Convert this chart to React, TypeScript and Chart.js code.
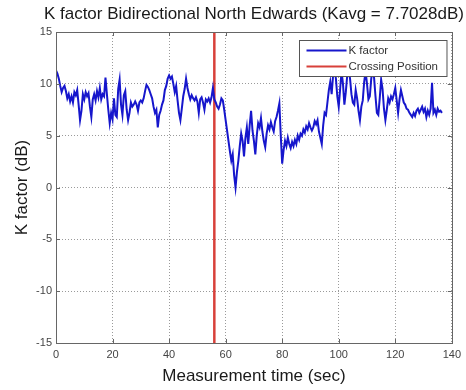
import React, { useEffect, useRef } from 'react';
import { Chart, registerables } from 'chart.js';

Chart.register(...registerables);

const chartTitle = 'K factor Bidirectional North Edwards (Kavg = 7.7028dB)';
const xAxisTitle = 'Measurement time (sec)';
const yAxisTitle = 'K factor (dB)';
const legendLabels = ['K factor', 'Crossing Position'];

const sampleStep = 0.5; // seconds between samples
const kFactor = [
  11.3, 11.0, 10.5, 9.8, 9.2, 9.6, 9.8, 9.3, 8.6, 9.0,
  8.3, 8.8, 8.2, 9.2, 8.9, 9.4, 8.0, 6.5, 7.4, 9.0,
  8.5, 9.2, 8.8, 9.1, 7.8, 6.8, 8.5, 9.0, 8.4, 9.3,
  8.7, 9.6, 8.5, 9.0, 8.8, 10.6, 9.0, 7.5, 6.2, 7.2,
  6.6, 8.6, 7.0, 6.8, 9.5, 10.4, 8.0, 7.0, 8.9, 9.3,
  7.5, 6.5, 7.2, 8.2, 7.8, 8.0, 8.3, 8.0, 7.4, 8.2,
  8.4, 8.2, 8.6, 9.3, 9.9, 9.7, 9.4, 9.0, 8.6, 7.8,
  7.2, 7.5, 5.8, 7.0, 7.4, 8.0, 8.4, 9.4, 9.8, 10.5,
  10.8, 10.5, 10.7, 10.0, 9.2, 9.8, 8.4, 7.2, 6.5, 7.6,
  8.8, 9.5, 10.5, 9.6, 9.0, 8.5, 8.9, 8.6, 8.4, 8.7,
  8.3, 7.2, 8.5, 8.7, 8.2, 7.5, 8.5, 8.3, 8.6, 8.2,
  8.7, 9.6, 8.5, 8.2, 7.8, 7.6, 8.0, 8.6, 8.4, 7.5,
  6.5, 5.5, 4.5, 3.5, 2.6, 3.2, 1.2, 0.0, 1.5, 2.6,
  4.0, 5.2, 4.5, 3.0, 4.8, 5.8, 4.2, 6.0, 7.4, 5.5,
  4.5, 3.2, 5.0, 6.2, 5.8, 6.7, 5.4, 4.5, 3.9, 5.2,
  6.0, 5.6, 6.3, 5.8, 5.4, 6.4, 6.8, 7.4, 8.1, 5.0,
  2.3, 3.6, 4.5, 4.0, 4.8, 4.2, 3.8, 4.4, 4.0, 4.6,
  4.2, 5.0, 4.6, 5.2, 5.0, 5.6, 5.3, 5.9, 5.6, 6.2,
  5.8, 5.5, 5.8, 6.4, 6.1, 6.5, 5.4, 4.8, 4.2, 6.0,
  7.2, 7.0, 8.2, 9.4, 10.2, 9.0, 10.8, 11.5, 10.5, 8.8,
  7.8, 9.5, 11.2, 10.0, 8.0, 9.2, 10.8, 11.4, 10.5, 9.0,
  8.2, 8.0, 9.4, 8.6, 7.4, 6.5, 7.8, 8.4, 10.2, 11.2,
  10.0, 8.5, 8.8, 10.5, 11.3, 10.6, 8.8, 7.2, 7.0, 8.6,
  10.4, 9.5, 7.6, 6.5, 7.5, 8.6, 8.2, 8.8, 8.5, 9.0,
  9.6, 8.4, 7.2, 8.5, 9.4, 8.8, 8.2, 8.0, 7.6, 7.5,
  7.2, 7.0, 6.8, 7.2, 6.9, 7.4, 7.6, 7.2, 7.5, 7.8,
  7.3, 7.6, 6.8, 7.4, 7.0, 7.6, 10.1, 7.2, 7.5, 7.0,
  7.6, 7.3, 7.4, 7.2,
];
const crossingTime = 56;
const xTicks = [0, 20, 40, 60, 80, 100, 120, 140];
const yTicks = [-15, -10, -5, 0, 5, 10, 15];

const blue = '#1616cc';
const red = '#d8403a';
const fontFamily = '"Liberation Sans", Arial, sans-serif';

const framePlugin = {
  id: 'matlabFrame',
  afterDatasetsDraw(chart: any) {
    const { ctx, chartArea, scales } = chart;
    const { left, right, top, bottom } = chartArea;
    ctx.save();
    // tick marks pointing inward
    ctx.strokeStyle = '#666';
    ctx.lineWidth = 1;
    ctx.setLineDash([]);
    ctx.beginPath();
    xTicks.forEach((v) => {
      const px = Math.round(scales.x.getPixelForValue(v)) + 0.5;
      ctx.moveTo(px, bottom);
      ctx.lineTo(px, bottom - 4);
      ctx.moveTo(px, top);
      ctx.lineTo(px, top + 4);
    });
    yTicks.forEach((v) => {
      const py = Math.round(scales.y.getPixelForValue(v)) + 0.5;
      ctx.moveTo(left, py);
      ctx.lineTo(left + 4, py);
      ctx.moveTo(right, py);
      ctx.lineTo(right - 4, py);
    });
    ctx.stroke();
    ctx.strokeRect(Math.round(left) + 0.5, Math.round(top) + 0.5, Math.round(right - left), Math.round(bottom - top));

    // legend
    ctx.font = `11.5px ${fontFamily}`;
    const textW = Math.max(...legendLabels.map((l) => ctx.measureText(l).width));
    const lineLen = 40;
    const boxW = 7 + lineLen + 2 + textW + 9;
    const boxH = 36;
    const bx = Math.round(right - 5 - boxW) + 0.5;
    const by = Math.round(top + 8) + 0.5;
    ctx.fillStyle = '#ffffff';
    ctx.fillRect(bx, by, boxW, boxH);
    ctx.strokeStyle = '#555';
    ctx.strokeRect(bx, by, boxW, boxH);
    const colors = [blue, red];
    legendLabels.forEach((label, i) => {
      const ly = by + 10 + i * 16;
      ctx.strokeStyle = colors[i];
      ctx.lineWidth = 2;
      ctx.beginPath();
      ctx.moveTo(bx + 7, ly);
      ctx.lineTo(bx + 7 + lineLen, ly);
      ctx.stroke();
      ctx.fillStyle = '#333';
      ctx.textBaseline = 'middle';
      ctx.textAlign = 'left';
      ctx.fillText(label, bx + 7 + lineLen + 2, ly + 0.5);
    });

    // title centred over the axes
    ctx.fillStyle = '#1a1a1a';
    ctx.font = `17px ${fontFamily}`;
    ctx.textAlign = 'center';
    ctx.textBaseline = 'middle';
    ctx.fillText(chartTitle, (left + right) / 2, 14);
    ctx.restore();
  },
};

export default function App() {
  const canvasRef = useRef<HTMLCanvasElement | null>(null);

  useEffect(() => {
    if (!canvasRef.current) return;
    const kPoints = kFactor.map((v, i) => ({ x: i * sampleStep, y: v }));
    const crossPoints = [
      { x: crossingTime, y: yTicks[0] },
      { x: crossingTime, y: yTicks[yTicks.length - 1] },
    ];
    const chart = new Chart(canvasRef.current, {
      type: 'line',
      data: {
        datasets: [
          {
            label: legendLabels[0],
            data: kPoints,
            borderColor: blue,
            borderWidth: 2,
            pointRadius: 0,
            tension: 0,
            fill: false,
          },
          {
            label: legendLabels[1],
            data: crossPoints,
            borderColor: red,
            borderWidth: 2.5,
            pointRadius: 0,
            fill: false,
          },
        ],
      },
      plugins: [framePlugin],
      options: {
        animation: false,
        responsive: false,
        maintainAspectRatio: false,
        layout: { padding: { top: 32, right: 14, left: 0, bottom: 0 } },
        plugins: {
          legend: { display: false },
          title: { display: false },
          tooltip: { enabled: false },
        },
        scales: {
          x: {
            type: 'linear',
            min: 0,
            max: 140,
            afterBuildTicks(scale: any) {
              scale.ticks = xTicks.map((v) => ({ value: v }));
            },
            afterFit(scale: any) {
              scale.height = 47;
            },
            grid: {
              color: '#9a9a9a',
              drawTicks: false,
            },
            border: { display: false, dash: [1, 2] },
            ticks: {
              padding: 5,
              color: '#444',
              font: { size: 11, family: fontFamily },
              maxRotation: 0,
            },
            title: {
              display: true,
              text: xAxisTitle,
              color: '#1a1a1a',
              font: { size: 17, family: fontFamily },
              padding: { top: 0, bottom: 3 },
            },
          },
          y: {
            type: 'linear',
            min: -15,
            max: 15,
            afterBuildTicks(scale: any) {
              scale.ticks = yTicks.map((v) => ({ value: v }));
            },
            afterFit(scale: any) {
              scale.width = 56;
            },
            grid: {
              color: '#9a9a9a',
              drawTicks: false,
            },
            border: { display: false, dash: [1, 2] },
            ticks: {
              padding: 4,
              color: '#444',
              font: { size: 11, family: fontFamily },
            },
            title: {
              display: true,
              text: yAxisTitle,
              color: '#1a1a1a',
              font: { size: 17, family: fontFamily },
              padding: { top: 12, bottom: 0 },
            },
          },
        },
      },
    });
    return () => chart.destroy();
  }, []);

  return (
    <div style={{ position: 'fixed', left: 0, top: 0, width: 466, height: 390, background: '#fff' }}>
      <canvas ref={canvasRef} width={466} height={390} style={{ display: 'block' }} />
    </div>
  );
}
